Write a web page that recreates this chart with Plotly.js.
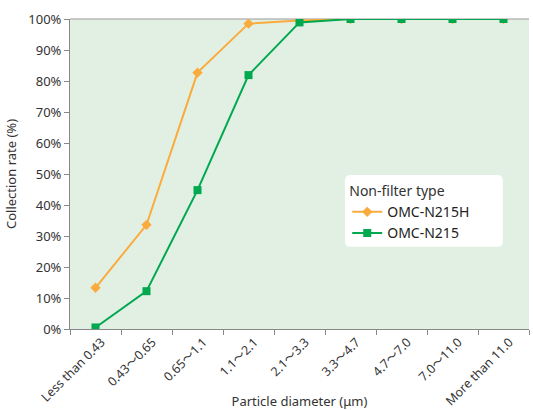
<!DOCTYPE html>
<html><head><meta charset="utf-8">
<script src="https://cdn.plot.ly/plotly-3.0.1.min.js"></script>
<style>body{margin:0;padding:0;background:#fff}#c{width:533px;height:410px}</style>
</head><body><div id="c"></div>
<script>
const categories = ["Less than 0.43","0.43～0.65","0.65～1.1","1.1～2.1","2.1～3.3","3.3～4.7","4.7～7.0","7.0～11.0","More than 11.0"];
const n215h = [13.3, 33.6, 82.7, 98.5, 99.5, 100, 100, 100, 100];
const n215 = [0.5, 12.2, 44.8, 81.9, 98.9, 100, 100, 100, 100];
const yTicks = [0,10,20,30,40,50,60,70,80,90,100];
const yTickText = yTicks.map(v => v + "%");

const font = "Noto Sans, Noto Sans CJK JP, Open Sans, sans-serif";
const traces = [
  {x: categories, y: n215h, name: "OMC-N215H", type: "scatter", mode: "lines+markers",
   line: {color: "#f9ac3d", width: 2}, marker: {symbol: "diamond", size: 8, color: "#f9ac3d"}},
  {x: categories, y: n215, name: "OMC-N215", type: "scatter", mode: "lines+markers",
   line: {color: "#00a84f", width: 2}, marker: {symbol: "square", size: 8, color: "#00a84f"}}
];
// rounded legend box (paper coords)
const bx0 = 0.599, bx1 = 0.943, by0 = 0.265, by1 = 0.497, rx = 0.012, ry = 0.018;
const boxPath = `M ${bx0+rx} ${by1} L ${bx1-rx} ${by1} Q ${bx1} ${by1} ${bx1} ${by1-ry} L ${bx1} ${by0+ry} Q ${bx1} ${by0} ${bx1-rx} ${by0} L ${bx0+rx} ${by0} Q ${bx0} ${by0} ${bx0} ${by0+ry} L ${bx0} ${by1-ry} Q ${bx0} ${by1} ${bx0+rx} ${by1} Z`;
const layout = {
  width: 533, height: 410,
  margin: {l: 70, r: 4, t: 19, b: 81},
  paper_bgcolor: "#ffffff", plot_bgcolor: "#e2f0e4",
  font: {family: font, size: 13, color: "#333"},
  showlegend: true,
  legend: {x: 0.604, y: 0.487, xanchor: "left", yanchor: "top", bgcolor: "rgba(0,0,0,0)",
    title: {text: "Non-filter type", font: {size: 14, color: "#333"}},
    font: {size: 14, color: "#222"}, borderwidth: 0, tracegroupgap: 2, itemwidth: 30},
  xaxis: {type: "category", range: [-0.5, 8.5], showgrid: false, zeroline: false,
    showline: true, linecolor: "#888", linewidth: 1, ticks: "outside", ticklen: 5, tickcolor: "#888",
    tickson: "boundaries", tickangle: -45, tickfont: {size: 12.5, color: "#333"},
    ticklabelshift: 6,
    title: {text: "Particle diameter (μm)", font: {size: 13, color: "#333"}, standoff: 4}},
  yaxis: {range: [0, 100], tickvals: yTicks, ticktext: yTickText, showgrid: false, zeroline: false,
    showline: true, linecolor: "#888", linewidth: 1, ticks: "outside", ticklen: 5, tickcolor: "#888",
    tickfont: {size: 13, color: "#333"},
    title: {text: "Collection rate (%)", font: {size: 13, color: "#333"}, standoff: 8}},
  shapes: [
    {type: "line", xref: "paper", yref: "paper", x0: 0, x1: 1, y0: 1, y1: 1,
     line: {color: "#999", width: 1}, layer: "below"},
    {type: "path", xref: "paper", yref: "paper", path: boxPath, fillcolor: "#ffffff",
     line: {width: 0}, layer: "above"}
  ]
};
Plotly.newPlot("c", traces, layout, {displayModeBar: false, staticPlot: true});
</script></body></html>
